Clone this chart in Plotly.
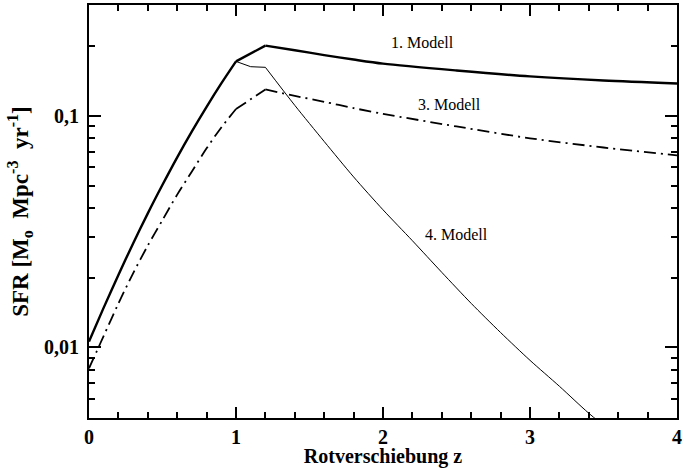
import plotly.graph_objects as go
import math

# ---- data ----
z_rise = [0.0, 0.1, 0.2, 0.3, 0.4, 0.5, 0.6, 0.7, 0.8, 0.9, 1.0]
sfr_rise_1 = [0.0106, 0.01486, 0.02056, 0.02812, 0.03793, 0.05039, 0.06622, 0.0857, 0.1094, 0.138, 0.1718]

z_m1_tail = [1.2, 1.4, 1.6, 1.8, 2.0, 2.5, 3.0, 3.5, 4.0]
sfr_m1_tail = [0.201, 0.192, 0.183, 0.175, 0.168, 0.157, 0.148, 0.142, 0.138]

z_m3_rise = [0.0, 0.1, 0.2, 0.3, 0.4, 0.5, 0.6, 0.7, 0.8, 0.9, 1.0]
sfr_m3_rise = [0.00813, 0.01122, 0.01549, 0.0209, 0.02754, 0.0355, 0.0457, 0.0575, 0.0724, 0.0891, 0.107]
z_m3_tail = [1.2, 1.4, 1.6, 1.8, 2.0, 2.5, 3.0, 3.5, 4.0]
sfr_m3_tail = [0.130, 0.122, 0.115, 0.108, 0.102, 0.090, 0.080, 0.073, 0.0675]

z_m4_tail = [1.1, 1.2, 1.4, 1.6, 1.8, 2.0, 2.2, 2.4, 2.6, 2.8, 3.0, 3.2, 3.4, 3.6]
sfr_m4_tail = [0.163, 0.162, 0.111, 0.0775, 0.0545, 0.0393, 0.0289, 0.0211, 0.0155, 0.0116, 0.0088, 0.0068, 0.0052, 0.0041]

labels = ["1. Modell", "3. Modell", "4. Modell"]
label_z = [2.27, 2.45, 2.50]
label_sfr = [0.207, 0.112, 0.0308]

y_major = [0.01, 0.1]
y_major_text = ["0,01", "0,1"]
y_minor = [0.005, 0.006, 0.007, 0.008, 0.009, 0.02, 0.03, 0.04, 0.05, 0.06, 0.07, 0.08, 0.09, 0.2, 0.3]
x_major = [0, 1, 2, 3, 4]
x_major_text = ["0", "1", "2", "3", "4"]

FONT = "Liberation Serif, Times New Roman, serif"

fig = go.Figure()


def add_piece(xs, ys, line, shape):
    fig.add_trace(go.Scatter(x=xs, y=ys, mode="lines", line=dict(shape=shape, smoothing=0.8, **line),
                             showlegend=False, hoverinfo="skip"))


thick = dict(color="black", width=2.4)
dd = dict(color="black", width=1.8, dash="12px,5px,2px,5px")
thin = dict(color="black", width=1)

# 1. Modell
add_piece(z_rise, sfr_rise_1, thick, "spline")
add_piece([z_rise[-1], z_m1_tail[0]], [sfr_rise_1[-1], sfr_m1_tail[0]], thick, "linear")
add_piece(z_m1_tail, sfr_m1_tail, thick, "spline")

# 3. Modell
add_piece(z_m3_rise, sfr_m3_rise, dd, "spline")
add_piece([z_m3_rise[-1], z_m3_tail[0]], [sfr_m3_rise[-1], sfr_m3_tail[0]], dd, "linear")
add_piece(z_m3_tail, sfr_m3_tail, dd, "spline")

# 4. Modell
add_piece(z_rise, sfr_rise_1, thin, "spline")
add_piece([z_rise[-1]] + z_m4_tail[:2], [sfr_rise_1[-1]] + sfr_m4_tail[:2], thin, "linear")
add_piece(z_m4_tail[1:], sfr_m4_tail[1:], thin, "spline")

for t, xz, ys in zip(labels, label_z, label_sfr):
    fig.add_annotation(x=xz, y=math.log10(ys), text=t, showarrow=False,
                       font=dict(family=FONT, size=16, color="black"))

fig.update_layout(
    width=684, height=468,
    margin=dict(l=89, r=2, t=5, b=47),
    paper_bgcolor="white", plot_bgcolor="white",
    font=dict(family=FONT, color="black"),
)
fig.update_xaxes(
    range=[0, 4], showgrid=False, zeroline=False,
    showline=True, linecolor="black", linewidth=2, mirror="allticks",
    ticks="inside", ticklen=11, tickwidth=2, tickcolor="black",
    tickmode="array", tickvals=x_major, ticktext=x_major_text,
    tickfont=dict(family=FONT, size=20, color="black", weight="bold"),
    ticklabelstandoff=0, ticklabeloverflow="allow",
    minor=dict(ticks="inside", ticklen=6, tickwidth=1.5, tickcolor="black", dtick=0.2, showgrid=False),
    title=dict(text="Rotverschiebung z", font=dict(family=FONT, size=20, color="black", weight="bold"), standoff=4),
)
fig.update_yaxes(
    type="log", range=[math.log10(0.00496), math.log10(0.301)], showgrid=False, zeroline=False,
    showline=True, linecolor="black", linewidth=2, mirror="allticks",
    ticks="inside", ticklen=12, tickwidth=2, tickcolor="black",
    tickmode="array", tickvals=y_major, ticktext=y_major_text,
    tickfont=dict(family=FONT, size=20, color="black", weight="bold"),
    ticklabelstandoff=4,
    minor=dict(ticks="inside", ticklen=6, tickwidth=1.5, tickcolor="black", tickmode="array", tickvals=y_minor, showgrid=False),
    title=dict(text="SFR [M<sub>o</sub>  Mpc<sup>-3</sup>  yr<sup>-1</sup>]",
               font=dict(family=FONT, size=23, color="black", weight="bold"), standoff=9),
)

fig.write_html("out.html")
